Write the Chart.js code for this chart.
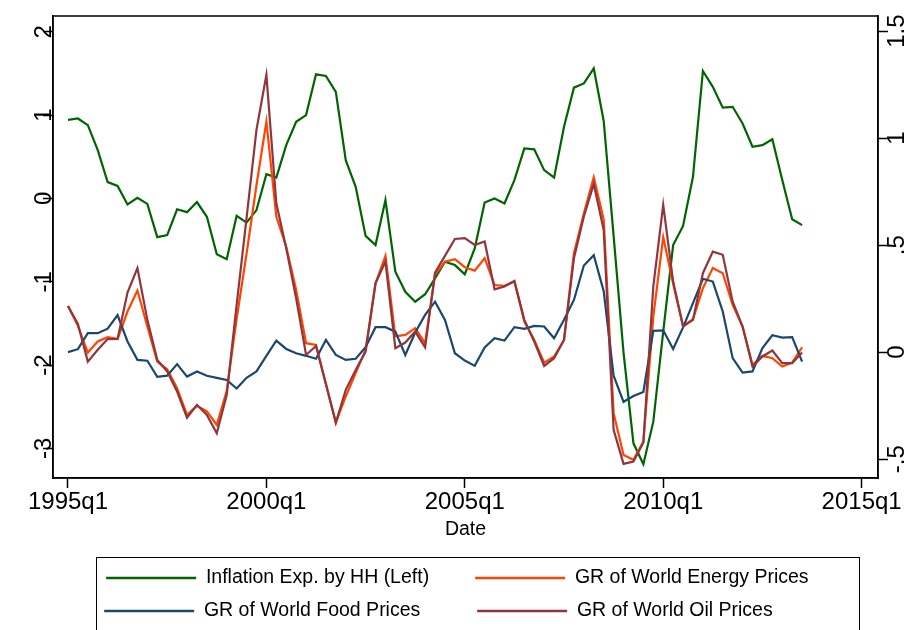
<!DOCTYPE html>
<html>
<head>
<meta charset="utf-8">
<script src="https://cdn.jsdelivr.net/npm/chart.js@4.4.1/dist/chart.umd.min.js"></script>
<style>
  html, body { margin: 0; padding: 0; background: #fff; }
  canvas { display: block; }
</style>
</head>
<body>
<canvas id="chart" width="913" height="630"></canvas>
<script>
// quarterly data, 1995q1 .. 2013q3 (x = quarters since 1995q1)
const inflationExp = [
  0.944, 0.96, 0.88, 0.58, 0.196, 0.15, -0.072, 0.007, -0.065, -0.465,
  -0.44, -0.13, -0.165, -0.044, -0.22, -0.67, -0.73, -0.21, -0.29, -0.14,
  0.29, 0.25, 0.64, 0.92, 1.0, 1.49, 1.47, 1.28, 0.46, 0.14,
  -0.45, -0.56, -0.02, -0.88, -1.12, -1.24, -1.15, -0.96, -0.76, -0.8,
  -0.91, -0.6, -0.05, 0.0, -0.06, 0.22, 0.6, 0.59, 0.34, 0.25,
  0.86, 1.33, 1.38, 1.56, 0.93, -0.45, -1.85, -2.94, -3.19, -2.68,
  -1.6, -0.56, -0.33, 0.26, 1.53, 1.34, 1.09, 1.1, 0.9, 0.62,
  0.64, 0.71, 0.22, -0.25, -0.32
];
const energyGR = [
  0.216, 0.123, -0.002, 0.05, 0.07, 0.062, 0.19, 0.288, 0.12, -0.044,
  -0.08, -0.168, -0.293, -0.251, -0.277, -0.34, -0.18, 0.155, 0.46, 0.78,
  1.078, 0.634, 0.493, 0.291, 0.042, 0.034, -0.148, -0.329, -0.207, -0.098,
  0.011, 0.322, 0.45, 0.074, 0.081, 0.112, 0.042, 0.361, 0.423, 0.435,
  0.397, 0.381, 0.439, 0.314, 0.31, 0.33, 0.143, 0.057, -0.049, -0.02,
  0.057, 0.463, 0.648, 0.818, 0.62, -0.285, -0.48, -0.503, -0.418, 0.166,
  0.538, 0.32, 0.122, 0.154, 0.299, 0.393, 0.369, 0.221, 0.12, -0.059,
  -0.017, -0.028, -0.067, -0.049, 0.023
];
const foodGR = [
  0.0, 0.014, 0.089, 0.089, 0.11, 0.173, 0.05, -0.036, -0.04, -0.115,
  -0.11, -0.056, -0.114, -0.09, -0.11, -0.12, -0.13, -0.17, -0.12, -0.09,
  -0.017, 0.054, 0.015, -0.005, -0.017, -0.031, 0.057, -0.013, -0.036, -0.031,
  0.023, 0.117, 0.117, 0.096, -0.013, 0.092, 0.174, 0.236, 0.151, -0.005,
  -0.039, -0.064, 0.022, 0.065, 0.054, 0.117, 0.109, 0.123, 0.12, 0.065,
  0.151, 0.244, 0.405, 0.453, 0.285, -0.11, -0.232, -0.205, -0.186, 0.1,
  0.102, 0.015, 0.116, 0.229, 0.343, 0.33, 0.19, -0.028, -0.095, -0.09,
  0.019, 0.079, 0.068, 0.07, -0.044
];
const oilGR = [
  0.216, 0.132, -0.044, 0.011, 0.061, 0.062, 0.279, 0.393, 0.151, -0.036,
  -0.09, -0.184, -0.306, -0.246, -0.293, -0.379, -0.2, 0.221, 0.627, 1.039,
  1.296, 0.696, 0.486, 0.252, -0.013, 0.029, -0.15, -0.329, -0.176, -0.083,
  0.003, 0.322, 0.423, 0.019, 0.045, 0.096, 0.023, 0.372, 0.45, 0.529,
  0.533, 0.501, 0.517, 0.294, 0.307, 0.333, 0.151, 0.05, -0.064, -0.028,
  0.057, 0.439, 0.634, 0.786, 0.571, -0.363, -0.522, -0.511, -0.422, 0.307,
  0.688, 0.33, 0.12, 0.151, 0.369, 0.47, 0.455, 0.236, 0.12, -0.067,
  -0.02, 0.008, -0.051, -0.051, -0.002
];

const xTickValues = [0, 20, 40, 60, 80];
const xTickLabels = ['1995q1', '2000q1', '2005q1', '2010q1', '2015q1'];
const leftTickValues = [-3, -2, -1, 0, 1, 2];
const leftTickLabels = ['-3', '-2', '-1', '0', '1', '2'];
const rightTickValues = [-0.5, 0, 0.5, 1, 1.5];
const rightTickLabels = ['-.5', '0', '.5', '1', '1.5'];

const FONT = '"Liberation Sans", Arial, sans-serif';
const LEGEND_SIZE = 19.5;

function toPoints(values) {
  return values.map((v, i) => ({x: i, y: v}));
}

function fixTicks(values) {
  return scale => { scale.ticks = values.map(v => ({value: v})); };
}

// pad legend text so the two legend columns line up like Stata's
const measureCtx = document.createElement('canvas').getContext('2d');
function padLabel(text, width) {
  measureCtx.font = LEGEND_SIZE + 'px ' + FONT;
  let s = text;
  while (Math.abs(measureCtx.measureText(s + ' ').width - width) < Math.abs(measureCtx.measureText(s).width - width)) {
    s += ' ';
  }
  return s;
}

const axisGrid = {display: true, drawOnChartArea: false, drawTicks: true, tickLength: 10, tickWidth: 1.5, tickColor: '#000'};
const axisBorder = {display: true, color: '#000', width: 1.5};

const framePlugin = {
  id: 'frame',
  afterDatasetsDraw(chart) {
    const {ctx, chartArea: a} = chart;
    ctx.save();
    ctx.strokeStyle = '#000';
    ctx.lineWidth = 1.5;
    ctx.strokeRect(a.left, a.top, a.right - a.left, a.bottom - a.top);
    ctx.restore();
  },
  afterDraw(chart) {
    const lg = chart.legend;
    const hb = lg.legendHitBoxes[0];
    const ctx = chart.ctx;
    ctx.save();
    ctx.strokeStyle = '#000';
    ctx.lineWidth = 1;
    ctx.strokeRect(Math.round(hb.left - 10) + 0.5, Math.round(lg.top + 2) + 0.5, 763, 120);
    ctx.restore();
  }
};

new Chart(document.getElementById('chart'), {
  type: 'line',
  data: {
    datasets: [
      {label: 'Inflation Exp. by HH (Left)', data: toPoints(inflationExp), yAxisID: 'y', borderColor: '#006400', order: 3},
      {label: 'GR of World Energy Prices', data: toPoints(energyGR), yAxisID: 'y1', borderColor: '#ff4500', order: 2},
      {label: 'GR of World Food Prices', data: toPoints(foodGR), yAxisID: 'y1', borderColor: '#1a476f', order: 1},
      {label: 'GR of World Oil Prices', data: toPoints(oilGR), yAxisID: 'y1', borderColor: '#90353b', order: 0}
    ]
  },
  options: {
    responsive: false,
    animation: false,
    devicePixelRatio: 1,
    layout: {padding: {top: 16, bottom: -0.75, left: 0, right: 0}},
    elements: {
      line: {borderWidth: 2.2, tension: 0, fill: false},
      point: {radius: 0, hoverRadius: 0}
    },
    scales: {
      x: {
        type: 'linear',
        min: -1.51,
        max: 81.65,
        afterBuildTicks: fixTicks(xTickValues),
        afterFit: s => { s.height = 76.75; },
        border: axisBorder,
        grid: axisGrid,
        ticks: {
          color: '#000', font: {family: FONT, size: 24, lineHeight: 1}, padding: 2,
          minRotation: 0, maxRotation: 0, autoSkip: false,
          callback: (v, i) => xTickLabels[i]
        },
        title: {display: true, text: 'Date', color: '#000', font: {family: FONT, size: 19.5}, padding: {top: 0, bottom: 13}}
      },
      y: {
        position: 'left',
        min: -3.356,
        max: 2.19,
        afterBuildTicks: fixTicks(leftTickValues),
        afterFit: s => { s.width = 53; },
        border: axisBorder,
        grid: axisGrid,
        ticks: {
          color: '#000', font: {family: FONT, size: 24, lineHeight: 1}, padding: -12.5,
          minRotation: 90, maxRotation: 90, crossAlign: 'center',
          callback: (v, i) => leftTickLabels[i]
        }
      },
      y1: {
        position: 'right',
        min: -0.588,
        max: 1.571,
        afterBuildTicks: fixTicks(rightTickValues),
        afterFit: s => { s.width = 35; },
        border: axisBorder,
        grid: axisGrid,
        ticks: {
          color: '#000', font: {family: FONT, size: 24, lineHeight: 1}, padding: -7.5,
          minRotation: 90, maxRotation: 90, crossAlign: 'center',
          callback: (v, i) => rightTickLabels[i]
        }
      }
    },
    plugins: {
      tooltip: {enabled: false},
      legend: {
        position: 'bottom',
        fullSize: false,
        align: 'center',
        labels: {
          color: '#000',
          font: {family: FONT, size: LEGEND_SIZE},
          boxWidth: 90,
          boxHeight: 2.5,
          padding: 13.5,
          generateLabels(chart) {
            return chart.data.datasets.map((ds, i) => ({
              text: padLabel(ds.label, i % 2 === 0 ? 257.75 : 250.25),
              fillStyle: ds.borderColor,
              strokeStyle: ds.borderColor,
              lineWidth: 0,
              hidden: false,
              datasetIndex: i
            }));
          }
        }
      }
    }
  },
  plugins: [framePlugin]
});
</script>
</body>
</html>
